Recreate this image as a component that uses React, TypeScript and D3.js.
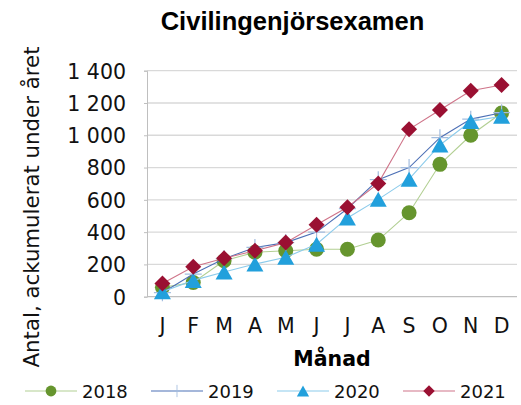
import React, { useEffect, useRef } from "react";
import * as d3 from "d3";

// data
const months = ["J", "F", "M", "A", "M", "J", "J", "A", "S", "O", "N", "D"];
const years = ["2018", "2019", "2020", "2021"];
const values2018 = [58, 88, 223, 275, 285, 294, 294, 351, 520, 820, 1000, 1138];
const values2019 = [25, 140, 235, 305, 335, 400, 545, 725, 800, 985, 1100, 1140];
const values2020 = [30, 101, 153, 202, 244, 325, 488, 603, 728, 940, 1086, 1118];
const values2021 = [82, 186, 238, 285, 335, 446, 554, 702, 1037, 1157, 1276, 1311];
const yTicks = [0, 200, 400, 600, 800, 1000, 1200, 1400];

const seriesValues = [values2018, values2019, values2020, values2021];
const lineColors = ["#b2cf93", "#4d70b6", "#8ccbeb", "#cf7489"];
const markerColors = ["#66952e", "#a3bddf", "#22a0dc", "#9a1032"];
const markerTypes = ["circle", "plus", "triangle", "diamond"];

const W = 521;
const H = 405;
const margin = { top: 70.7, right: 4, bottom: 108.3, left: 147 };

function drawMarker(g, type, color, cx, cy) {
  if (type === "circle") {
    g.append("circle").attr("cx", cx).attr("cy", cy).attr("r", 7.5).attr("fill", color);
  } else if (type === "triangle") {
    g.append("path")
      .attr("d", `M${cx},${cy - 7.5}L${cx + 8.5},${cy + 7.5}L${cx - 8.5},${cy + 7.5}Z`)
      .attr("fill", color);
  } else if (type === "diamond") {
    g.append("path")
      .attr("d", `M${cx},${cy - 8}L${cx + 8},${cy}L${cx},${cy + 8}L${cx - 8},${cy}Z`)
      .attr("fill", color);
  } else {
    g.append("path")
      .attr("d", `M${cx - 8.5},${cy}H${cx + 8.5}M${cx},${cy - 8.5}V${cy + 8.5}`)
      .attr("stroke", color)
      .attr("stroke-width", 1.2)
      .attr("fill", "none");
  }
}

export default function App() {
  const ref = useRef(null);

  useEffect(() => {
    const svg = d3.select(ref.current);
    svg.selectAll("*").remove();

    const plotW = W - margin.left - margin.right;
    const plotH = H - margin.top - margin.bottom;

    const x = d3.scaleBand().domain(d3.range(months.length)).range([margin.left, margin.left + plotW]);
    const cx = (i) => x(i) + x.bandwidth() / 2;
    const y = d3.scaleLinear().domain([0, 1400]).range([margin.top + plotH, margin.top]);

    const locale = d3.formatLocale({ decimal: ",", thousands: " ", grouping: [3], currency: ["", ""] });
    const fmt = locale.format(",");

    // title
    svg.append("text")
      .attr("x", 292.5)
      .attr("y", 30)
      .attr("text-anchor", "middle")
      .style("font-family", "Liberation Sans, Arial, sans-serif")
      .style("font-weight", "bold")
      .style("font-size", "25.5px")
      .text("Civilingenjörsexamen");

    // grid lines
    svg.append("g")
      .selectAll("line")
      .data(yTicks.filter((t) => t > 0))
      .enter()
      .append("line")
      .attr("x1", margin.left)
      .attr("x2", margin.left + plotW)
      .attr("y1", (d) => y(d))
      .attr("y2", (d) => y(d))
      .attr("stroke", "#d9d9d9")
      .attr("stroke-width", 1.3);

    // y axis
    const yAxis = svg.append("g")
      .attr("transform", `translate(${margin.left},0)`)
      .call(d3.axisLeft(y).tickValues(yTicks).tickFormat(fmt).tickSize(3).tickPadding(18));
    yAxis.select(".domain").attr("stroke", "#bfbfbf");
    yAxis.selectAll(".tick line").attr("stroke", "#bfbfbf");
    yAxis.selectAll("text")
      .style("font-family", "DejaVu Sans, Verdana, sans-serif")
      .style("font-size", "20.5px")
      .attr("fill", "#111")
      .attr("dy", "0.36em");

    // x axis line
    svg.append("line")
      .attr("x1", margin.left)
      .attr("x2", margin.left + plotW)
      .attr("y1", y(0))
      .attr("y2", y(0))
      .attr("stroke", "#bfbfbf")
      .attr("stroke-width", 1.3);

    svg.append("g")
      .selectAll("text")
      .data(months)
      .enter()
      .append("text")
      .attr("x", (d, i) => cx(i))
      .attr("y", 333)
      .attr("text-anchor", "middle")
      .style("font-family", "DejaVu Sans, Verdana, sans-serif")
      .style("font-size", "20.5px")
      .attr("fill", "#111")
      .text((d) => d);

    svg.append("text")
      .attr("x", margin.left + plotW / 2)
      .attr("y", 365.5)
      .attr("text-anchor", "middle")
      .style("font-family", "DejaVu Sans, Verdana, sans-serif")
      .style("font-weight", "bold")
      .style("font-size", "20.5px")
      .text("Månad");

    svg.append("text")
      .attr("transform", "translate(39,207)rotate(-90)")
      .attr("text-anchor", "middle")
      .style("font-family", "DejaVu Sans, Verdana, sans-serif")
      .style("font-size", "21.3px")
      .attr("fill", "#111")
      .text("Antal, ackumulerat under året");

    // series
    const line = d3.line().x((d, i) => cx(i)).y((d) => y(d));
    seriesValues.forEach((vals, s) => {
      const g = svg.append("g");
      g.append("path")
        .attr("d", line(vals))
        .attr("fill", "none")
        .attr("stroke", lineColors[s])
        .attr("stroke-width", 1.1);
      vals.forEach((v, i) => drawMarker(g, markerTypes[s], markerColors[s], cx(i), y(v)));
    });

    // legend
    const legendX = [25, 151, 277, 403];
    const legendY = 391;
    years.forEach((yr, s) => {
      const g = svg.append("g");
      g.append("line")
        .attr("x1", legendX[s])
        .attr("x2", legendX[s] + 52)
        .attr("y1", legendY)
        .attr("y2", legendY)
        .attr("stroke", lineColors[s])
        .attr("stroke-width", 1.1);
      const mx = legendX[s] + 26;
      const scale = 0.72;
      const mg = g.append("g").attr("transform", `translate(${mx},${legendY}) scale(${scale})`);
      drawMarker(mg, markerTypes[s], markerColors[s], 0, 0);
      g.append("text")
        .attr("x", legendX[s] + 57)
        .attr("y", 398)
        .style("font-family", "DejaVu Sans, Verdana, sans-serif")
        .style("font-size", "18px")
        .attr("fill", "#111")
        .text(yr);
    });
  }, []);

  return (
    <div style={{ position: "absolute", left: 0, top: 0, width: W, height: H, background: "#fff" }}>
      <svg ref={ref} width={W} height={H}></svg>
    </div>
  );
}
